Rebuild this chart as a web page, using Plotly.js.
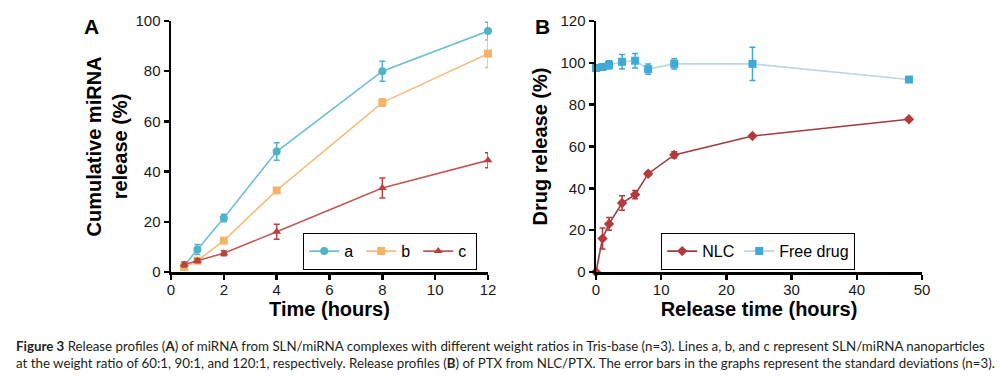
<!DOCTYPE html>
<html><head><meta charset="utf-8">
<script src="https://cdn.plot.ly/plotly-3.0.1.min.js"></script>
<style>html,body{margin:0;padding:0;background:#fff;}#chart{width:1005px;height:377px;}</style>
</head><body><div id="chart"></div>
<script>
// Panel A: cumulative miRNA release
const timeA = [0.5, 1, 2, 4, 8, 12];
const seriesA_a = [2.5, 9, 21.5, 48, 80, 96];
const errA_a = [1, 2, 1.5, 3.5, 4, 3.5];
const seriesA_b = [2, 4.5, 12.5, 32.5, 67.5, 87];
const errA_b = [0.5, 0.5, 0.5, 1, 1.5, 5.5];
const seriesA_c = [3, 4.5, 7.5, 16, 33.5, 44.5];
const errA_c = [1, 0.8, 1, 3, 4, 3];
const namesA = ['a', 'b', 'c'];

// Panel B: PTX release
const timeB = [0, 1, 2, 4, 6, 8, 12, 24, 48];
const nlc = [0, 16, 23, 33, 37, 47, 56, 65, 73];
const errNlc = [0, 5, 3, 3.5, 2, 1, 1.5, 0.5, 0.5];
const freeDrug = [97.5, 98, 99, 100.5, 101, 97, 99.5, 99.5, 92];
const errFree = [1.5, 1, 2, 3.5, 3.5, 2.5, 2.5, 8, 1];
const namesB = ['NLC', 'Free drug'];

const captionLines = [
  '<b>Figure 3</b> Release profiles (<b>A</b>) of miRNA from SLN/miRNA complexes with different weight ratios in Tris-base (n=3). Lines a, b, and c represent SLN/miRNA nanoparticles',
  'at the weight ratio of 60:1, 90:1, and 120:1, respectively. Release profiles (<b>B</b>) of PTX from NLC/PTX. The error bars in the graphs represent the standard deviations (n=3).'
];

const cA = '#4fb3c8', cB = '#f5b36a', cC = '#b8403f';
const cNLC = '#b53a3d', cFree = '#3faad6';

function tr(x, y, e, name, color, lineColor, sym, xa, ya, leg) {
  return {x: x, y: y, name: name, type: 'scatter', mode: 'lines+markers',
    xaxis: xa, yaxis: ya, legend: leg, cliponaxis: false,
    line: {color: lineColor, width: 1.6},
    marker: {color: color, symbol: sym, size: 8},
    error_y: {type: 'data', array: e, visible: true, color: color, thickness: 1.5, width: 3}};
}

const data = [
  tr(timeA, seriesA_a, errA_a, namesA[0], cA, '#6cbfd1', 'circle', 'x', 'y', 'legend'),
  tr(timeA, seriesA_b, errA_b, namesA[1], cB, '#f5bd7c', 'square', 'x', 'y', 'legend'),
  tr(timeA, seriesA_c, errA_c, namesA[2], cC, '#bf5a58', 'triangle-up', 'x', 'y', 'legend'),
  tr(timeB, nlc, errNlc, namesB[0], cNLC, '#9e3b3e', 'diamond', 'x2', 'y2', 'legend2'),
  tr(timeB, freeDrug, errFree, namesB[1], cFree, '#bcd4e6', 'square', 'x2', 'y2', 'legend2')
];

const tickFont = {family: 'Liberation Sans, Arial, sans-serif', size: 15, color: '#1a1a1a'};
const titleFont = {family: 'Liberation Sans, Arial, sans-serif', size: 20, color: '#000', weight: 'bold'};
const axBase = {showline: true, linecolor: '#000', linewidth: 2.5, ticks: 'outside', ticklen: 5,
  tickwidth: 2.5, tickcolor: '#000', showgrid: false, zeroline: false, tickfont: tickFont};

const yDom = [1 - 272/377, 1 - 21/377];
const layout = {
  width: 1005, height: 377, margin: {l: 0, r: 0, t: 0, b: 0},
  paper_bgcolor: '#fff', plot_bgcolor: '#fff', showlegend: true,
  font: {family: 'Liberation Sans, Arial, sans-serif'},
  xaxis: Object.assign({}, axBase, {domain: [171/1005, 488/1005], range: [0, 12], tickvals: [0,2,4,6,8,10,12],
    anchor: 'y', ticklabelstandoff: -3, title: {text: '<b>Time (hours)</b>', font: titleFont, standoff: 0}}),
  yaxis: Object.assign({}, axBase, {domain: yDom, range: [0, 100], tickvals: [0,20,40,60,80,100],
    anchor: 'x', title: {text: '<b>Cumulative miRNA<br>release (%)</b>', font: titleFont, standoff: 3}}),
  xaxis2: Object.assign({}, axBase, {domain: [596/1005, 922/1005], range: [0, 50], tickvals: [0,10,20,30,40,50],
    anchor: 'y2', ticklabelstandoff: -3, title: {text: '<b>Release time (hours)</b>', font: titleFont, standoff: 0}}),
  yaxis2: Object.assign({}, axBase, {domain: yDom, range: [0, 120], tickvals: [0,20,40,60,80,100,120],
    anchor: 'x2', title: {text: '<b>Drug release (%)</b>', font: titleFont, standoff: 8}}),
  legend: {orientation: 'h', x: 303/1005, y: 1 - 233/377, xanchor: 'left', yanchor: 'top',
    bordercolor: '#000', borderwidth: 1.2, bgcolor: '#fff', font: {size: 16, color: '#000'},
    entrywidth: 12, tracegroupgap: 0},
  legend2: {orientation: 'h', x: 661/1005, y: 1 - 233/377, xanchor: 'left', yanchor: 'top',
    bordercolor: '#000', borderwidth: 1.2, bgcolor: '#fff', font: {size: 16, color: '#000'}},
  annotations: [
    {text: '<b>A</b>', xref: 'paper', yref: 'paper', x: 91/1005, y: 1 - 26/377, xanchor: 'center', yanchor: 'middle',
      showarrow: false, font: {size: 21, color: '#000', family: 'Liberation Sans, Arial, sans-serif'}},
    {text: '<b>B</b>', xref: 'paper', yref: 'paper', x: 542/1005, y: 1 - 26/377, xanchor: 'center', yanchor: 'middle',
      showarrow: false, font: {size: 21, color: '#000', family: 'Liberation Sans, Arial, sans-serif'}},
    {text: captionLines.join('<br>'),
      xref: 'paper', yref: 'paper', x: 14/1005, y: 1 - 354/377, xanchor: 'left', yanchor: 'middle', align: 'left',
      showarrow: false, font: {size: 13.3, color: '#231f20', family: 'Lato, sans-serif'}}
  ]
};

Plotly.newPlot('chart', data, layout, {displayModeBar: false, staticPlot: true});
</script></body></html>
